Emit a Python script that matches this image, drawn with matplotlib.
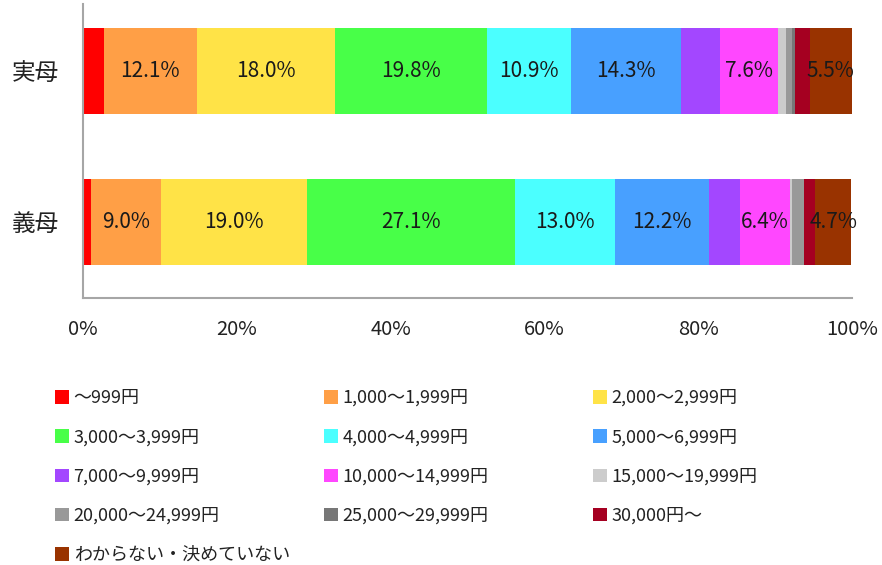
import matplotlib
matplotlib.use('Agg')
import matplotlib.pyplot as plt
from matplotlib.patches import Patch
import numpy as np

plt.rcParams['font.family'] = ['Noto Sans CJK JP', 'DejaVu Sans']

# ---- data ----
groups = ['義母', '実母']  # bottom to top
categories = ['～999円', '1,000～1,999円', '2,000～2,999円', '3,000～3,999円',
              '4,000～4,999円', '5,000～6,999円', '7,000～9,999円',
              '10,000～14,999円', '15,000～19,999円', '20,000～24,999円',
              '25,000～29,999円', '30,000円～', 'わからない・決めていない']
jitsubo = [2.7, 12.1, 18.0, 19.8, 10.9, 14.3, 5.0, 7.6, 1.0, 0.8, 0.4, 1.9, 5.5]
gibo = [1.1, 9.0, 19.0, 27.1, 13.0, 12.2, 4.1, 6.4, 0.3, 1.5, 0.1, 1.4, 4.7]
labeled = [False, True, True, True, True, True, False, True, False, False, False, False, True]
xticks = [0, 20, 40, 60, 80, 100]
xticklabels = ['0%', '20%', '40%', '60%', '80%', '100%']

colors = ['#FF0000', '#FF9F46', '#FFE347', '#48FF48', '#4BFFFF', '#48A0FF',
          '#A347FF', '#FF47FF', '#CCCCCC', '#999999', '#777777', '#A50021',
          '#993300']

values = np.array([gibo, jitsubo])  # rows follow groups order

fig = plt.figure(figsize=(8.82, 5.65), dpi=100)
ax = fig.add_axes([83 / 882, 1 - 298 / 565, (852 - 83) / 882, (298 - 4) / 565])

y = np.arange(len(groups))
left = np.zeros(len(groups))
for i, cat in enumerate(categories):
    vals = values[:, i]
    cont = ax.barh(y, vals, left=left, height=0.57, color=colors[i],
                   edgecolor='none', label=cat)
    if labeled[i]:
        ax.bar_label(cont, labels=[f'{v:.1f}%' for v in vals],
                     label_type='center', fontsize=15, color='#1a1a1a')
    left += vals

ax.set_xlim(0, 100)
ax.set_ylim(-0.503, 1.444)
ax.set_xticks(xticks)
ax.set_xticklabels(xticklabels, fontsize=14.5, color='#222222')
ax.set_yticks(y)
ax.set_yticklabels(groups, fontsize=17, color='#222222')
ax.tick_params(axis='x', length=0, pad=15)
ax.tick_params(axis='y', length=0, pad=17)
for s in ['top', 'right']:
    ax.spines[s].set_visible(False)
for s in ['left', 'bottom']:
    ax.spines[s].set_color('#A6A6A6')
    ax.spines[s].set_linewidth(1.5)

# legend: three columns placed at fixed x positions
col_idx = [[0, 3, 6, 9, 12], [1, 4, 7, 10], [2, 5, 8, 11]]
col_x = [55, 324, 593]
for cols, x in zip(col_idx, col_x):
    hs = [Patch(facecolor=colors[k], edgecolor='none') for k in cols]
    lb = [categories[k] for k in cols]
    leg = fig.legend(hs, lb, loc='upper left', bbox_to_anchor=(x / 882, 1 - 389 / 565),
                     frameon=False, fontsize=13, borderpad=0, borderaxespad=0,
                     handlelength=0.78, handleheight=0.78, handletextpad=0.25,
                     labelspacing=1.18)
    for t in leg.get_texts():
        t.set_color('#222222')

fig.savefig('out.png', dpi=100)
